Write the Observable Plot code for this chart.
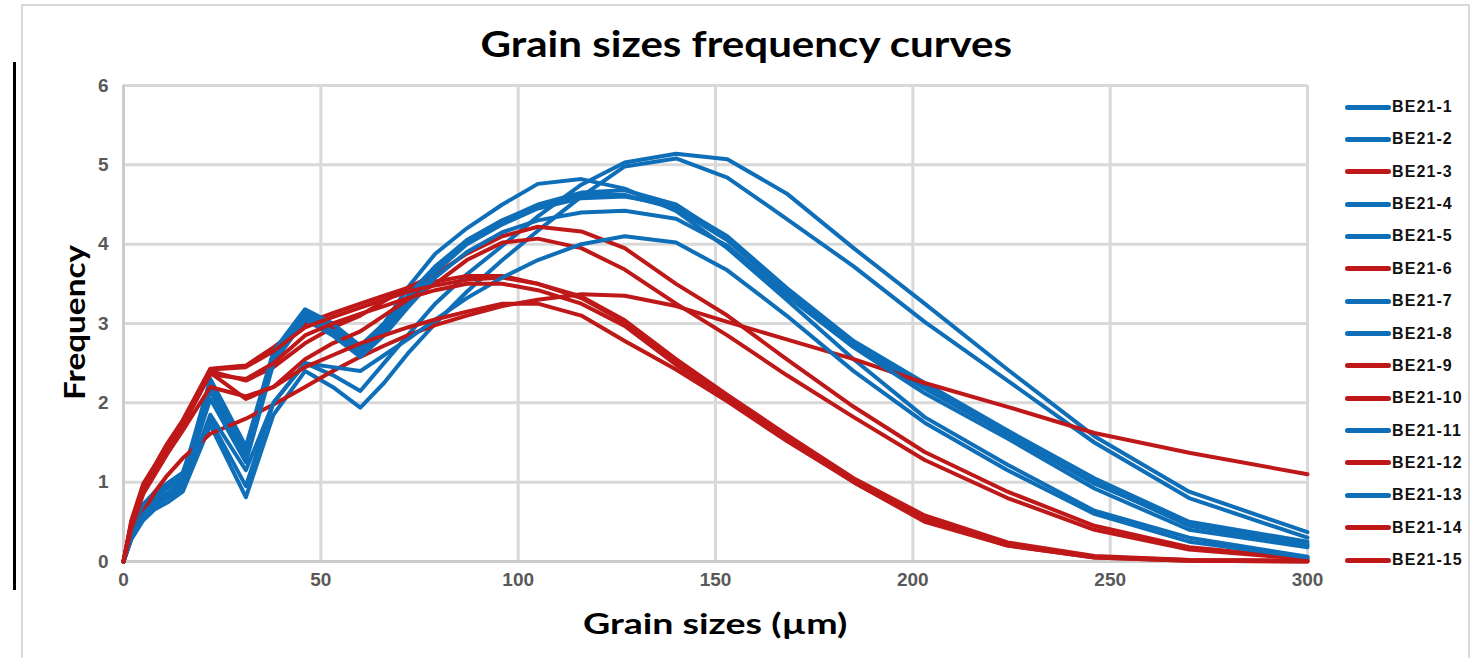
<!DOCTYPE html>
<html><head><meta charset="utf-8">
<script src="https://cdn.jsdelivr.net/npm/d3@7"></script>
<script src="https://cdn.jsdelivr.net/npm/@observablehq/plot@0.6"></script>
<style>
html,body{margin:0;padding:0;background:#fff;}
#wrap{position:relative;width:1478px;height:658px;overflow:hidden;background:#fff;}
#frame{position:absolute;left:21px;top:4px;width:1449px;height:720px;border:2px solid #d9d9d9;box-sizing:border-box;}
#blk{position:absolute;left:13px;top:62px;width:3px;height:528px;background:#000;}
#chart{position:absolute;left:0;top:0;}
.lbl{position:absolute;left:0;top:0;font-family:"Lato","DejaVu Sans",sans-serif;font-weight:700;color:#000;white-space:nowrap;line-height:1;transform-origin:center center;}
.leg{position:absolute;left:0;top:0;}
.leg .sw{position:absolute;left:1345px;width:46px;height:5px;border-radius:3px;}
.leg .tx{position:absolute;left:1392px;font-family:"Liberation Sans",Arial,sans-serif;font-weight:700;font-size:16px;letter-spacing:1.1px;color:#111;line-height:1;white-space:nowrap;}
</style></head>
<body>
<div id="wrap">
  <div id="frame"></div>
  <div id="blk"></div>
  <div id="chart"></div>
  <div class="lbl" id="title" style="font-size:36px">Grain sizes frequency curves</div>
  <div class="lbl" id="ylab" style="font-size:29px">Frequency</div>
  <div class="lbl" id="xlab" style="font-size:29px">Grain sizes (µm)</div>
  <div class="leg" id="legend"></div>
</div>
<script>
// grain size classes (µm)
const sizes = [0, 2, 5, 8, 11, 15, 22, 31, 38, 46, 53, 60, 66, 72, 79, 87, 96, 105, 116, 127, 140, 153, 168, 185, 203, 224, 246, 270, 300];

const seriesNames = ["BE21-1","BE21-2","BE21-3","BE21-4","BE21-5","BE21-6","BE21-7","BE21-8","BE21-9","BE21-10","BE21-11","BE21-12","BE21-13","BE21-14","BE21-15"];
const seriesColors = ["#0E6EB8","#0E6EB8","#BF1818","#0E6EB8","#0E6EB8","#BF1818","#0E6EB8","#0E6EB8","#BF1818","#BF1818","#0E6EB8","#BF1818","#0E6EB8","#BF1818","#BF1818"];

const be21_1  = [0,0.30,0.58,0.72,0.80,0.92,1.78,0.95,2.00,2.50,2.35,2.15,2.50,2.85,3.25,3.62,3.98,4.35,4.75,5.03,5.14,5.07,4.64,3.95,3.25,2.42,1.58,0.88,0.37];
const be21_2  = [0,0.28,0.52,0.66,0.74,0.88,1.72,0.81,1.85,2.40,2.20,1.94,2.25,2.62,3.00,3.40,3.80,4.17,4.60,4.98,5.08,4.84,4.32,3.72,3.02,2.28,1.50,0.80,0.30];
const be21_3  = [0,0.52,0.98,1.22,1.48,1.78,2.43,2.47,2.70,3.00,3.13,3.25,3.35,3.45,3.53,3.60,3.60,3.50,3.32,3.02,2.52,2.08,1.58,1.02,0.55,0.22,0.06,0.02,0.01];
const be21_4  = [0,0.40,0.72,0.88,0.98,1.12,2.15,1.30,2.55,3.12,2.90,2.60,3.00,3.45,3.88,4.20,4.50,4.76,4.82,4.70,4.42,3.95,3.30,2.55,1.82,1.22,0.64,0.30,0.06];
const be21_5  = [0,0.36,0.66,0.82,0.92,1.04,2.25,1.40,2.60,3.15,2.95,2.68,2.95,3.30,3.70,4.05,4.30,4.48,4.62,4.62,4.45,4.05,3.40,2.72,2.18,1.60,1.00,0.45,0.20];
const be21_6  = [0,0.48,0.92,1.18,1.43,1.72,2.40,2.28,2.45,2.75,2.95,3.10,3.28,3.45,3.62,3.88,4.10,4.22,4.16,3.95,3.50,3.10,2.55,1.95,1.38,0.88,0.45,0.18,0.04];
const be21_7  = [0,0.34,0.62,0.78,0.86,1.00,2.20,1.35,2.55,3.10,2.90,2.62,2.90,3.25,3.65,4.00,4.25,4.45,4.58,4.60,4.48,4.10,3.45,2.78,2.25,1.65,1.05,0.50,0.25];
const be21_8  = [0,0.38,0.70,0.86,0.95,1.06,2.30,1.45,2.65,3.18,3.00,2.72,3.00,3.35,3.72,4.05,4.30,4.50,4.65,4.68,4.50,4.08,3.42,2.75,2.20,1.60,0.98,0.48,0.22];
const be21_9  = [0,0.46,0.90,1.15,1.40,1.70,2.38,2.05,2.20,2.55,2.75,2.90,3.10,3.30,3.50,3.80,4.02,4.07,3.95,3.68,3.25,2.85,2.35,1.82,1.28,0.80,0.40,0.15,0.03];
const be21_10 = [0,0.30,0.62,0.88,1.08,1.30,1.61,1.80,1.98,2.20,2.40,2.58,2.72,2.85,2.98,3.10,3.22,3.30,3.37,3.35,3.22,3.02,2.80,2.55,2.25,1.95,1.62,1.37,1.10];
const be21_11 = [0,0.32,0.60,0.75,0.84,0.97,2.05,1.25,2.50,3.05,2.85,2.58,2.85,3.20,3.58,3.90,4.15,4.30,4.40,4.42,4.32,3.98,3.35,2.70,2.12,1.55,0.92,0.40,0.18];
const be21_12 = [0,0.50,0.95,1.20,1.45,1.75,2.42,2.45,2.65,2.95,3.08,3.20,3.30,3.40,3.48,3.55,3.58,3.50,3.34,3.04,2.55,2.10,1.60,1.05,0.58,0.24,0.07,0.02,0.01];
const be21_13 = [0,0.30,0.55,0.70,0.80,0.92,1.85,1.15,2.00,2.50,2.45,2.40,2.60,2.80,3.05,3.32,3.58,3.80,4.00,4.10,4.02,3.67,3.10,2.40,1.75,1.15,0.60,0.25,0.05];
const be21_14 = [0,0.47,0.92,1.18,1.42,1.72,2.36,2.30,2.50,2.85,3.00,3.12,3.22,3.32,3.42,3.50,3.50,3.42,3.25,2.97,2.48,2.05,1.55,1.00,0.52,0.20,0.05,0.01,0];
const be21_15 = [0,0.42,0.85,1.10,1.35,1.65,2.20,2.08,2.20,2.45,2.60,2.75,2.85,2.95,3.05,3.15,3.25,3.25,3.10,2.78,2.42,2.02,1.52,1.00,0.50,0.20,0.05,0.01,0];

const xTicks = [0, 50, 100, 150, 200, 250, 300];
const yTicks = [0, 1, 2, 3, 4, 5, 6];

const allValues = [be21_1,be21_2,be21_3,be21_4,be21_5,be21_6,be21_7,be21_8,be21_9,be21_10,be21_11,be21_12,be21_13,be21_14,be21_15];
const rows = seriesNames.flatMap((s, i) => allValues[i].map((v, j) => ({series: s, size: sizes[j], freq: v})));

const gridColor = "#d9d9d9";
const chart = Plot.plot({
  width: 1478, height: 658,
  marginLeft: 123, marginRight: 171, marginTop: 85, marginBottom: 97,
  style: {fontFamily: "'Liberation Sans Narrow','Liberation Sans',Arial,sans-serif", fontSize: "19px", fontWeight: "bold", color: "#595959", background: "transparent", overflow: "visible"},
  x: {domain: [0, 300], label: null},
  y: {domain: [0, 6], label: null},
  color: {domain: seriesNames, range: seriesColors},
  marks: [
    Plot.gridX(xTicks, {stroke: gridColor, strokeWidth: 3, strokeOpacity: 1}),
    Plot.gridY(yTicks, {stroke: gridColor, strokeWidth: 3, strokeOpacity: 1}),
    Plot.ruleY([0], {stroke: "#cccccc", strokeWidth: 3}),
    Plot.ruleX([0], {stroke: "#cccccc", strokeWidth: 3}),
    Plot.line(rows, {x: "size", y: "freq", z: "series", stroke: "series", strokeWidth: 4, strokeLinejoin: "round", strokeLinecap: "round"}),
    Plot.axisX(xTicks, {tickSize: 0, tickPadding: 11, label: null, tickFormat: d => String(d)}),
    Plot.axisY(yTicks, {tickSize: 0, tickPadding: 15, label: null, tickFormat: d => String(d)})
  ]
});
document.getElementById("chart").appendChild(chart);

// legend
const leg = document.getElementById("legend");
seriesNames.forEach((s, i) => {
  const cy = 107 + i * 32.36;
  const sw = document.createElement("div");
  sw.className = "sw"; sw.style.top = (cy - 2.5) + "px"; sw.style.background = seriesColors[i];
  const tx = document.createElement("div");
  tx.className = "tx"; tx.textContent = s; tx.style.top = (cy - 8) + "px";
  leg.appendChild(sw); leg.appendChild(tx);
});

// place and fit labels
function place(id, cx, cy, targetW, rot) {
  const el = document.getElementById(id);
  const w = el.offsetWidth, h = el.offsetHeight;
  const k = targetW / w;
  el.style.left = (cx - w / 2) + "px";
  el.style.top = (cy - h / 2) + "px";
  el.style.transform = (rot ? "rotate(" + rot + "deg) " : "") + "scaleX(" + k + ")";
}
place("title", 746, 43, 532, 0);
place("ylab", 73, 322, 155, -90);
place("xlab", 715, 622, 264, 0);
</script>
</body></html>
